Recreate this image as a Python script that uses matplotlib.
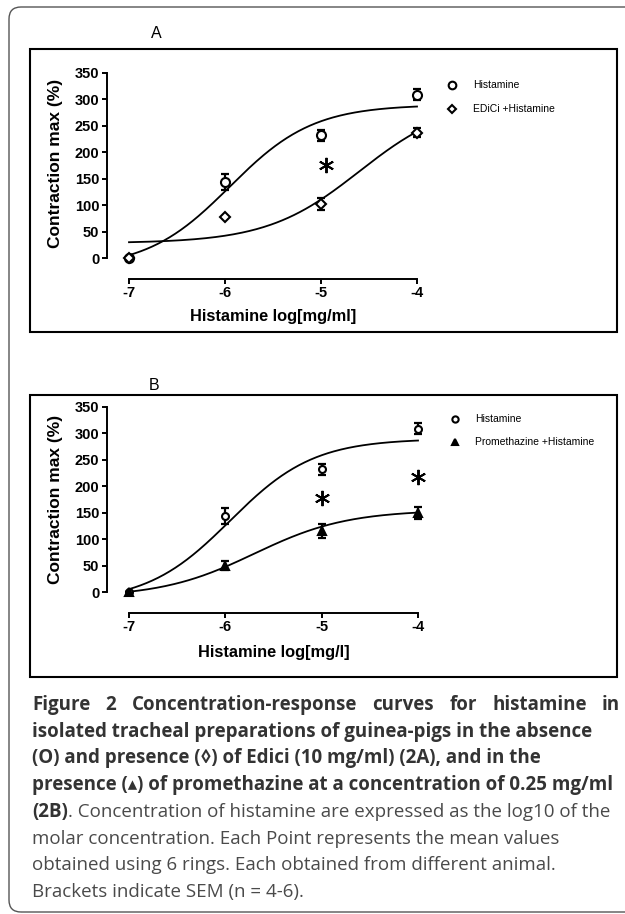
import numpy as np
import matplotlib
matplotlib.use('Agg')
import matplotlib.pyplot as plt
from matplotlib.patches import FancyBboxPatch, Rectangle
from matplotlib.lines import Line2D

plt.rcParams['axes.unicode_minus'] = False

# data
log_conc = [-7, -6, -5, -4]
hist_mean = [0, 143, 232, 309]
hist_sem = [0, 15, 10, 10]
edici_mean = [0, 77, 102, 237]
edici_sem = [0, 0, 12, 9]
prometh_mean = [0, 50, 115, 150]
prometh_sem = [0, 8, 13, 11]

# four-parameter logistic fits: bottom, top, logEC50, hill slope
hist_fit = [-20, 290, -5.95, 1.0]
edici_fit = [28, 300, -4.6, 0.9]
prometh_fit = [-10, 155, -5.7, 0.9]

x_ticks = [-7, -6, -5, -4]
y_ticks = [0, 50, 100, 150, 200, 250, 300, 350]

stars_a = [(-4.95, 176)]
stars_b = [(-5.0, 178), (-4.0, 217)]

W, H = 625, 914
ARIAL = 'Liberation Sans'


def fx(px):
    return px / W


def fy(py):
    return 1 - py / H


def logistic(fit, x):
    bottom, top, ec50, hill = fit
    return bottom + (top - bottom) / (1 + 10 ** ((ec50 - x) * hill))


def setup_axes(ax):
    ax.set_xlim(-7, -4)
    ax.set_ylim(0, 350)
    for s in ['top', 'right']:
        ax.spines[s].set_visible(False)
    ax.spines['left'].set_position(('outward', 16))
    ax.spines['bottom'].set_position(('outward', 15))
    ax.spines['left'].set_linewidth(1.4)
    ax.spines['bottom'].set_linewidth(1.4)
    ax.set_xticks(x_ticks)
    ax.set_yticks(y_ticks)
    ax.tick_params(width=1.4, length=3.5, pad=2)
    for lab in ax.get_xticklabels() + ax.get_yticklabels():
        lab.set_fontfamily(ARIAL)
        lab.set_fontweight('bold')
        lab.set_fontsize(10.5)
    ax.patch.set_visible(False)


def draw_series(ax, mean, sem, marker, ms, filled):
    ax.errorbar(log_conc, mean, yerr=sem, fmt='none', ecolor='black',
                elinewidth=1.6, capsize=3, capthick=1.6, clip_on=False, zorder=3)
    ax.plot(log_conc, mean, linestyle='none', marker=marker, markersize=ms,
            markerfacecolor='black' if filled else 'white',
            markeredgecolor='black', markeredgewidth=1.5, clip_on=False, zorder=4)


def draw_curve(ax, fit):
    xs = np.linspace(-7, -4, 200)
    ax.plot(xs, logistic(fit, xs), color='black', lw=1.3, clip_on=False, zorder=2)


def draw_stars(ax, stars):
    for sx, sy in stars:
        ax.plot(sx, sy, marker=(6, 2, 0), markersize=11, color='black',
                mew=1.4, clip_on=False)


def legend_item(x_mark, x_text, y, marker, ms, filled, label):
    fig.add_artist(Line2D([fx(x_mark)], [fy(y)], transform=fig.transFigure,
                          marker=marker, markersize=ms, linestyle='none',
                          markerfacecolor='black' if filled else 'white',
                          markeredgecolor='black', markeredgewidth=1.5))
    fig.text(fx(x_text), fy(y), label, fontsize=7.5, family=ARIAL,
             va='center', ha='left')


fig = plt.figure(figsize=(W / 100, H / 100), dpi=100)
renderer = fig.canvas.get_renderer()

# outer rounded frame and panel boxes
fig.add_artist(FancyBboxPatch((0.09, 0.02), 6.4, 9.05,
                              boxstyle='round,pad=0,rounding_size=0.12',
                              transform=fig.dpi_scale_trans, fill=False,
                              edgecolor='#555555', lw=1.0))
for top, bot in [(49, 332), (395, 677)]:
    fig.add_artist(Rectangle((fx(30), fy(bot)), fx(617) - fx(30), fy(top) - fy(bot),
                             transform=fig.transFigure, fill=False,
                             edgecolor='black', lw=1.5))

# panel A
axA = fig.add_axes([fx(129), fy(258), fx(417) - fx(129), fy(73) - fy(258)])
setup_axes(axA)
draw_curve(axA, hist_fit)
draw_curve(axA, edici_fit)
draw_series(axA, hist_mean, hist_sem, 'o', 6.5, False)
draw_series(axA, edici_mean, edici_sem, 'D', 5.5, False)
draw_stars(axA, stars_a)
fig.text(fx(156), fy(33), 'A', fontsize=11.5, family=ARIAL, ha='center', va='center')
fig.text(fx(56), fy(163), 'Contraction max (%)', rotation=90, fontsize=12.5,
         family=ARIAL, fontweight='bold', ha='center', va='center')
fig.text(fx(273), fy(316), 'Histamine log[mg/ml]', fontsize=11.8,
         family=ARIAL, fontweight='bold', ha='center', va='center')
legend_item(452, 473, 85, 'o', 5.5, False, 'Histamine')
legend_item(452, 473, 109, 'D', 4.5, False, 'EDiCi +Histamine')

# panel B
axB = fig.add_axes([fx(129), fy(592), fx(418) - fx(129), fy(407) - fy(592)])
setup_axes(axB)
draw_curve(axB, hist_fit)
draw_curve(axB, prometh_fit)
draw_series(axB, hist_mean, hist_sem, 'o', 5, False)
draw_series(axB, prometh_mean, prometh_sem, '^', 6, True)
draw_stars(axB, stars_b)
fig.text(fx(154), fy(385), 'B', fontsize=11.5, family=ARIAL, ha='center', va='center')
fig.text(fx(56), fy(499), 'Contraction max (%)', rotation=90, fontsize=12.5,
         family=ARIAL, fontweight='bold', ha='center', va='center')
fig.text(fx(274), fy(653), 'Histamine log[mg/l]', fontsize=11.8,
         family=ARIAL, fontweight='bold', ha='center', va='center')
legend_item(455, 475, 419, 'o', 4.5, False, 'Histamine')
legend_item(455, 475, 442, '^', 5, True, 'Promethazine +Histamine')

# caption
cap_font = ['Open Sans', 'DejaVu Sans']
cap_size = 13.5
bold_kw = dict(fontsize=cap_size, family=cap_font, fontweight='bold',
               color='#333333', va='center')
plain_kw = dict(fontsize=cap_size, family=cap_font, color='#4a4a4a', va='center')
line_y = [705 + 26.7 * i for i in range(8)]

# first line is justified across the full width
words = 'Figure 2 Concentration-response curves for histamine in'.split()
texts = [fig.text(0, fy(line_y[0]), w, **bold_kw) for w in words]
widths = [t.get_window_extent(renderer=renderer).width for t in texts]
gap = (620 - 32 - sum(widths)) / (len(words) - 1)
xpos = 32
for t, w in zip(texts, widths):
    t.set_x(fx(xpos))
    xpos += w + gap

bold_lines = [
    'isolated tracheal preparations of guinea-pigs in the absence',
    '(O) and presence (\u25ca) of Edici (10 mg/ml) (2A), and in the',
    'presence (\u25b4) of promethazine at a concentration of 0.25 mg/ml',
]
for i, txt in enumerate(bold_lines):
    fig.text(fx(32), fy(line_y[1 + i]), txt, **bold_kw)
t = fig.text(fx(32), fy(line_y[4]), '(2B)', **bold_kw)
bb = t.get_window_extent(renderer=renderer)
fig.text(bb.x1 / W, fy(line_y[4]),
         '. Concentration of histamine are expressed as the log10 of the',
         **plain_kw)
plain_lines = [
    'molar concentration. Each Point represents the mean values',
    'obtained using 6 rings. Each obtained from different animal.',
    'Brackets indicate SEM (n = 4-6).',
]
for i, txt in enumerate(plain_lines):
    fig.text(fx(32), fy(line_y[5 + i]), txt, **plain_kw)

fig.savefig('out.png', dpi=100)
